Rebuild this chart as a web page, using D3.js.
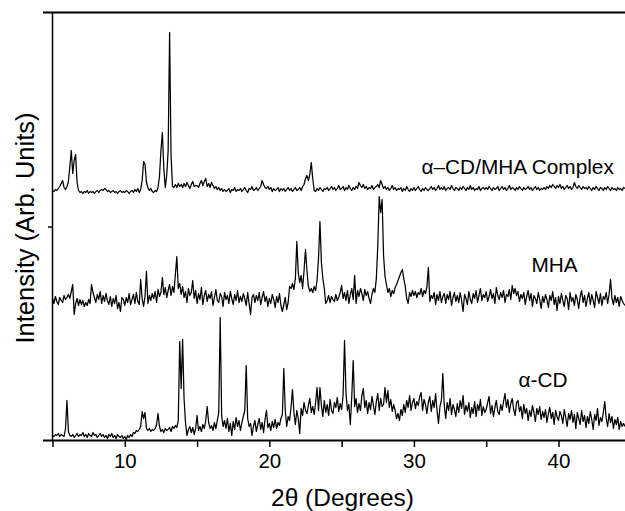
<!DOCTYPE html>
<html>
<head>
<meta charset="utf-8">
<script src="https://d3js.org/d3.v7.min.js"></script>
<style>
  body { margin: 0; background: #fff; }
  text { font-family: "Liberation Sans", Arial, sans-serif; fill: #000; }
</style>
</head>
<body>
<svg id="viz" width="625" height="511"></svg>
<script>
var width = 625;
var height = 511;

// scan: 2theta from 5.0 in steps of 0.1 degree
var thetaStart = 5.0;
var thetaStep = 0.1;

// alpha-CD/MHA complex (counts above its own baseline)
var complexCounts = [
  0, -1, 1, 0, 2, 4, 7, 10, 3, 1,
  4, 9, 24, 40, 17, 30, 36, 8, 0, -2,
  -1, -3, -1, -2, 0, -3, -1, -2, -1, -3,
  -1, 0, -2, 0, 1, 0, 2, 1, -1, 0,
  -2, -1, 0, -2, -1, -3, -1, 0, -2, -1,
  -2, 0, -1, -3, -1, 0, -2, 1, -1, 2,
  -2, 1, 10, 29, 26, 8, 3, 0, 2, -1,
  -2, 0, -1, 3, 14, 40, 58, 22, 3, 15,
  40, 158, 35, 4, 3, 6, 3, 7, 4, 6,
  3, 7, 4, 8, 5, 2, 6, 9, 4, 5,
  5, 3, 7, 10, 5, 9, 12, 4, 7, 3,
  8, 5, 2, 4, 1, 3, 0, 2, -1, 1,
  -1, 0, 2, -2, 1, 0, 3, -1, 1, 0,
  2, -1, 1, 3, 0, -2, 2, 1, 4, 0,
  1, 3, 0, 2, 4, 10, 6, 3, 2, 4,
  1, 3, -1, 2, 0, 1, 3, -1, 2, 0,
  2, -1, 1, 3, 0, 2, -1, 1, 3, 0,
  1, 3, 0, 4, 6, 12, 15, 10, 16, 28,
  12, 0, -1, 2, 0, 3, 1, -1, 2, 1,
  3, 0, 2, 4, 1, 3, 0, 2, 5, 1,
  2, 4, 0, 3, 1, 5, 2, 0, 3, 1,
  4, 2, 8, 5, 3, 6, 2, 4, 1, 3,
  2, 5, 1, 3, 4, 6, 3, 10, 6, 2,
  4, 1, 3, 0, 2, 5, 1, 3, 0, 2,
  1, 3, -1, 2, 0, 4, 1, -1, 2, 0,
  3, 0, 2, 4, 1, -1, 2, 0, 3, 1,
  0, 2, 4, 1, 3, 0, 2, 5, 1, 3,
  1, 4, 0, 2, 3, 1, 5, 2, 0, 3,
  2, 0, 3, 1, 4, 2, 0, 3, 1, 5,
  1, 3, 0, 2, 1, 4, 0, 2, 3, 1,
  3, 1, 4, 2, 0, 3, 1, 2, 4, 0,
  2, 4, 1, 3, 0, 2, 5, 1, 3, 2,
  0, 3, 1, 4, 2, 0, 3, 1, 2, 4,
  1, 3, 0, 2, 4, 1, 3, 0, 2, 1,
  3, 1, 4, 2, 5, 3, 6, 4, 2, 5,
  3, 6, 2, 4, 1, 3, 5, 2, 4, 1,
  3, 8, 4, 2, 5, 3, 1, 4, 2, 3,
  1, 4, 2, 0, 3, 1, 4, 2, 0, 3,
  2, 0, 3, 1, 4, 2, 0, 3, 1, 2,
  0, 3, 1, 2, 0, 3, 2
];

// MHA
var mhaCounts = [
  2, -3, 4, -1, -4, 3, 0, -2, 5, 1,
  3, 6, 2, 9, 16, -14, -3, 2, -5, 1,
  -4, 0, -6, -2, -5, 1, -3, 16, 8, 3,
  -2, 6, 1, 9, -3, 5, -1, 7, 0, -4,
  4, -6, 2, -3, 5, -8, -2, -11, 3, 1,
  -5, 3, -2, 7, -4, 1, 6, -3, 8, -1,
  -4, 21, 2, -6, 4, 29, -3, 5, 0, 7,
  2, 9, -2, 11, 4, 8, 23, 6, 13, 3,
  10, 16, 5, 14, 8, 26, 44, 12, 17, 6,
  14, 3, 9, -2, 12, 5, 8, 20, 2, 10,
  -3, 7, 1, 13, -4, 5, 10, -1, 6, 2,
  9, -5, 3, 11, 0, -2, 7, 4, -6, 8,
  1, 5, -3, 9, 2, -4, 6, 0, 10, -2,
  4, -1, 7, 2, -5, 8, -3, -14, 3, 6,
  -2, 5, 0, 8, -4, 3, 9, -1, 4, -6,
  2, -3, 6, 1, -7, 4, -2, 7, -5, -11,
  -4, 3, -9, -2, 14, 12, 17, 11, 22, 59,
  28, 18, 25, 12, 30, 51, 30, 14, 9, 12,
  8, 14, 10, 20, 42, 79, 38, 22, 12, -3,
  0, 5, -2, 4, 1, -1, 6, 0, 3, 8,
  15, 2, 8, 0, 10, -3, 6, 12, 1, 25,
  -3, 10, 4, 12, 7, 0, 11, 5, 9, 2,
  -3, 6, 12, 8, 22, 55, 104, 88, 101, 45,
  24, 16, 8, 12, 4, 10, 7, 13, 16, 20,
  24, 28, 31, 22, 14, 2, -3, 8, 4, 10,
  5, 9, 3, 8, 6, 12, 4, 10, 7, 14,
  33, -1, 5, 2, 8, -4, 6, 0, 9, -2,
  4, 7, -3, 6, 1, 9, -5, 3, 8, -1,
  5, -2, 8, 0, -11, 6, 2, -4, 9, 1,
  -3, 7, 2, 10, -2, 5, 12, 0, 6, 3,
  9, -1, 4, 11, 2, 7, -3, 13, 5, 1,
  8, 3, 10, -2, 6, 4, 11, 1, 15, 7,
  12, 5, 9, -1, 6, 2, 8, -4, 4, 10,
  0, 7, -6, 5, 2, -3, 8, 1, -8, 4,
  -2, 6, 1, -7, 5, 0, 9, -4, 3, -10,
  4, -3, 7, 0, -6, 5, 2, -9, 8, -1,
  3, -5, 6, 1, -8, 4, 10, -2, 5, -6,
  2, 8, -4, 6, 0, -7, 9, 3, -3, 7,
  -5, 4, 1, 8, -3, 6, 21, 2, -4, 5,
  -2, 3, -6, 4, 0, -3, -5
];

// alpha-CD
var acdCounts = [
  5, 4, 6, 5, 7, 4, 6, 5, 4, 12,
  40, 9, 5, 4, 6, 3, 5, 7, 4, 6,
  5, 8, 4, 6, 3, 7, 5, 4, 8, 5,
  6, 3, 5, 7, 4, 6, 3, 5, 2, 6,
  4, 7, 3, 5, 2, 6, 4, 3, 5, 2,
  4, 1, 5, 3, 6, 4, 8, 7, 10, 9,
  11, 14, 29, 22, 28, 12, 10, 12, 9, 11,
  10, 12, 16, 27, 14, 9, 11, 8, 12, 10,
  11, 13, 9, 14, 12, 15, 13, 20, 99, 52,
  101, 42, 18, 5, 11, 14, 8, 13, 6, 12,
  25, 10, 14, 9, 16, 12, 20, 34, 18, 12,
  15, 10, 18, 12, 20, 28, 123, 25, 14, 20,
  12, 22, 9, 17, 5, 19, 11, 23, 14, 20,
  10, 18, 24, 30, 75, 22, 14, 17, 5, 14,
  20, 9, 16, 22, 11, 18, 8, 21, 30, 13,
  17, 10, 19, 13, 21, 12, 18, 15, 22, 26,
  72, 30, 14, 24, 20, 33, 51, 28, 16, 30,
  22, 7, 32, 25, 38, 30, 27, 35, 42, 28,
  34, 26, 38, 53, 30, 53, 35, 24, 40, 28,
  36, 25, 41, 30, 27, 38, 33, 43, 29, 37,
  31, 45, 100, 48, 30, 36, 16, 44, 80, 34,
  42, 28, 37, 30, 45, 52, 33, 40, 27, 38,
  31, 44, 35, 26, 39, 47, 30, 42, 34, 36,
  53, 38, 50, 33, 41, 29, 36, 30, 22, 27,
  20, 31, 25, 36, 28, 40, 33, 45, 30, 38,
  42, 32, 39, 35, 44, 48, 30, 41, 36, 27,
  38, 44, 29, 40, 33, 47, 30, 17, 34, 40,
  67, 35, 22, 38, 30, 42, 26, 36, 31, 24,
  37, 28, 40, 32, 45, 26, 35, 29, 38, 23,
  33, 27, 39, 24, 36, 30, 41, 25, 34, 28,
  31, 38, 44, 27, 35, 24, 33, 40, 29, 26,
  36, 30, 39, 47, 33, 41, 28, 37, 42, 31,
  25, 38, 40, 29, 34, 22, 36, 27, 32, 20,
  30, 24, 35, 28, 19, 32, 26, 34, 21, 29,
  23, 31, 18, 27, 33, 22, 28, 16, 30, 24,
  20, 29, 25, 17, 31, 23, 14, 27, 21, 30,
  18, 26, 12, 28, 22, 16, 30, 19, 25, 13,
  24, 17, 29, 21, 11, 26, 20, 32, 15, 23,
  19, 28, 39, 22, 14, 27, 18, 24, 12, 21,
  16, 23, 11, 19, 14, 17, 14
];

var seriesNames = ["\u03b1\u2013CD/MHA Complex", "MHA", "\u03b1-CD"];
var seriesData = [complexCounts, mhaCounts, acdCounts];
var seriesOffsets = [250, 140, 0];

var xTickValues = [5, 10, 15, 20, 25, 30, 35, 40];
var xTickLabels = [10, 20, 30, 40];

var svg = d3.select("#viz");

var x = d3.scaleLinear().domain([5, 44.6]).range([52.5, 625]);
var y = d3.scaleLinear().domain([0, 428]).range([440.5, 12.5]);

// traces
seriesData.forEach(function(counts, k) {
  var line = d3.line()
    .x(function(d, i) { return x(thetaStart + i * thetaStep); })
    .y(function(d) { return y(d + seriesOffsets[k]); });
  svg.append("path")
    .datum(counts)
    .attr("d", line)
    .attr("fill", "none")
    .attr("stroke", "#000")
    .attr("stroke-width", 1.25)
    .attr("stroke-linejoin", "round");
});

// frame lines
svg.append("line").attr("x1", 43).attr("x2", 625).attr("y1", 12.5).attr("y2", 12.5)
  .attr("stroke", "#000").attr("stroke-width", 2);
svg.append("line").attr("x1", 43).attr("x2", 625).attr("y1", 440.5).attr("y2", 440.5)
  .attr("stroke", "#000").attr("stroke-width", 2);
svg.append("line").attr("x1", 52.5).attr("x2", 52.5).attr("y1", 12.5).attr("y2", 440.5)
  .attr("stroke", "#000").attr("stroke-width", 1.5);

// x axis
var xAxis = svg.append("g")
  .attr("transform", "translate(0,440.5)")
  .call(d3.axisBottom(x).tickValues(xTickValues).tickSize(6.5)
    .tickFormat(function(d) { return xTickLabels.indexOf(d) >= 0 ? d : ""; }));
xAxis.select(".domain").remove();
xAxis.selectAll(".tick line").attr("stroke-width", 1.5);
xAxis.selectAll(".tick text")
  .attr("y", 27).attr("dy", 0)
  .attr("font-size", 20.5)
  .attr("font-family", "Liberation Sans, Arial, sans-serif");

// y axis (middle tick only)
var yAxis = svg.append("g")
  .attr("transform", "translate(52.5,0)")
  .call(d3.axisLeft(y).tickValues([214]).tickSize(4.5).tickFormat(""));
yAxis.select(".domain").remove();
yAxis.selectAll(".tick line").attr("stroke-width", 1.5);

// axis titles
svg.append("text").attr("x", 342.5).attr("y", 506)
  .attr("text-anchor", "middle").attr("font-size", 24.5)
  .text("2\u03b8 (Degrees)");

svg.append("text")
  .attr("transform", "translate(34,228) rotate(-90)")
  .attr("text-anchor", "middle").attr("font-size", 25.5)
  .text("Intensity (Arb. Units)");

// series labels
var labelPos = [[421.5, 174], [531.5, 272], [518.5, 387]];
seriesNames.forEach(function(name, k) {
  svg.append("text")
    .attr("x", labelPos[k][0]).attr("y", labelPos[k][1])
    .attr("font-size", 20.8).text(name);
});
</script>
</body>
</html>
